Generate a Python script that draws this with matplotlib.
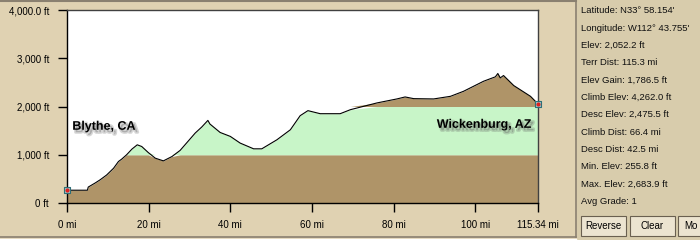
import numpy as np
import matplotlib
matplotlib.use("Agg")
import matplotlib.pyplot as plt
import matplotlib.patheffects as pe
from matplotlib.patches import Rectangle

# ---- data ----
miles = [0.0, 5.0, 5.2, 6.9, 8.1, 9.7, 11.4, 12.6, 13.4, 14.6, 15.9, 17.2, 18.3,
         19.9, 21.6, 23.6, 25.7, 27.7, 31.4, 33.0, 34.5, 35.0, 37.5, 40.0, 42.4,
         45.7, 47.7, 51.4, 54.7, 57.1, 59.0, 62.0, 66.9, 69.4, 75.9, 80.8, 82.8,
         84.9, 89.8, 93.9, 97.1, 102.0, 104.9, 105.5, 106.1, 106.9, 109.4, 113.5, 115.34]
elev_ft = [265, 265, 330, 415, 480, 580, 720, 860, 910, 1000, 1117, 1206, 1171,
           1046, 930, 873, 963, 1090, 1450, 1575, 1712, 1637, 1462, 1380, 1242,
           1123, 1123, 1310, 1518, 1810, 1914, 1851, 1851, 1934, 2074, 2157, 2198,
           2163, 2157, 2211, 2315, 2523, 2615, 2684, 2593, 2642, 2434, 2211, 2052.2]
x_ticks = [0, 20, 40, 60, 80, 100, 115.34]
x_tick_labels = ["0 mi", "20 mi", "40 mi", "60 mi", "80 mi", "100 mi", "115.34 mi"]
y_ticks = [0, 1000, 2000, 3000, 4000]
y_tick_labels = ["0 ft", "1,000 ft", "2,000 ft", "3,000 ft", "4,000.0 ft"]
bands = [(0, 1000), (1000, 2000), (2000, 3000), (3000, 4000)]
stats = ["Latitude: N33\u00b0 58.154'", "Longitude: W112\u00b0 43.755'", "Elev: 2,052.2 ft",
         "Terr Dist: 115.3 mi", "Elev Gain: 1,786.5 ft", "Climb Elev: 4,262.0 ft",
         "Desc Elev: 2,475.5 ft", "Climb Dist: 66.4 mi", "Desc Dist: 42.5 mi",
         "Min. Elev: 255.8 ft", "Max. Elev: 2,683.9 ft", "Avg Grade: 1"]
buttons = ["Reverse", "Clear", "Mo"]

BG = "#E0D2B2"
PANEL = "#D8CCAC"
BROWN = "#AF9468"
GREEN = "#C8F5C8"
band_colors = [BROWN, GREEN, BROWN, GREEN]

plt.rcParams['font.family'] = ['Liberation Sans', 'DejaVu Sans']

W, H = 700, 240
fig = plt.figure(figsize=(7, 2.4), dpi=100, facecolor=BG)

def fx(px):
    return px / W

def fy(py):
    return 1 - py / H

# right panel background
fig.patches.append(Rectangle((fx(577), 0), fx(123), 1, transform=fig.transFigure,
                             facecolor=PANEL, edgecolor='none', zorder=0))
# border lines
fig.add_artist(plt.Line2D([0, fx(576)], [fy(0.5), fy(0.5)], transform=fig.transFigure, color="#8A8070", lw=1.5))
fig.add_artist(plt.Line2D([0, fx(576)], [fy(237), fy(237)], transform=fig.transFigure, color="#8A8070", lw=1.2))
fig.add_artist(plt.Line2D([fx(575.5), fx(575.5)], [fy(0), fy(237)], transform=fig.transFigure, color="#8A8070", lw=1.2))
fig.add_artist(plt.Line2D([0, fx(576)], [fy(238.5), fy(238.5)], transform=fig.transFigure, color="#FFFFFF", lw=1.0))

x0, x1, y0, y1 = 67, 538, 10, 203
ax = fig.add_axes([fx(x0), fy(y1), fx(x1 - x0), (y1 - y0) / H])
ax.set_facecolor("white")
ax.set_xlim(0, 115.34)
ax.set_ylim(0, 4000)

xm = np.array(miles)
ye = np.array(elev_ft)
for (lo, hi), c in zip(bands, band_colors):
    ax.fill_between(xm, lo, np.clip(ye, lo, hi), color=c, lw=0, zorder=1)
ax.plot(xm, ye, color="black", lw=0.8, zorder=3)

# end markers
for i in (0, -1):
    ax.scatter([miles[i]], [elev_ft[i]], marker='s', s=22, facecolor="#9CC8C8",
               edgecolor="#2E6E78", lw=0.8, zorder=5, clip_on=False)
    ax.scatter([miles[i]], [elev_ft[i]], marker='o', s=4, color="#E02020", zorder=6, clip_on=False)

for s in ['left', 'bottom']:
    ax.spines[s].set_color("#000000")
    ax.spines[s].set_linewidth(1.0)
for s in ['top', 'right']:
    ax.spines[s].set_color("#404040")
    ax.spines[s].set_linewidth(1.0)

ax.set_xticks(x_ticks)
ax.set_xticklabels(x_tick_labels)
ax.set_yticks(y_ticks)
ax.set_yticklabels(y_tick_labels)
ax.tick_params(axis='x', direction='out', length=6.5, width=1, pad=6, labelsize=7, colors="black")
ax.tick_params(axis='y', direction='out', length=6.5, width=1, pad=6.5, labelsize=7, colors="black")

shadow = [
    pe.SimpleLineShadow(offset=(1.8, -1.8), shadow_color="#606060", alpha=0.25, linewidth=2.2),
    pe.SimplePatchShadow(offset=(1.8, -1.8), shadow_rgbFace="#606060", alpha=0.35),
    pe.Normal(),
]
ax.text(1.3, 1580, "Blythe, CA", fontsize=9, fontweight='bold', color="black",
        ha='left', va='center', path_effects=shadow, zorder=7)
ax.text(113.7, 1620, "Wickenburg, AZ", fontsize=9, fontweight='bold', color="black",
        ha='right', va='center', path_effects=shadow, zorder=7)

# stats text
for i, s in enumerate(stats):
    fig.text(fx(581), fy(10.7 + i * 17.33), s, fontsize=6.8, ha='left', va='center', color="#101010")

# buttons
btn_x = [(581, 626), (630, 675), (678, 724)]
for (bx0, bx1), label in zip(btn_x, buttons):
    fig.patches.append(Rectangle((fx(bx0), fy(236)), fx(bx1 - bx0), (236 - 216) / H,
                                 transform=fig.transFigure, facecolor="#ECE4D0",
                                 edgecolor="#6A6050", lw=0.8, zorder=2))
    if label == "Mo":
        fig.text(fx(684), fy(226), label, fontsize=7, ha='left', va='center', zorder=3)
    else:
        fig.text(fx((bx0 + bx1) / 2), fy(226), label, fontsize=7, ha='center', va='center', zorder=3)

fig.savefig("out.png", dpi=100, facecolor=BG)
